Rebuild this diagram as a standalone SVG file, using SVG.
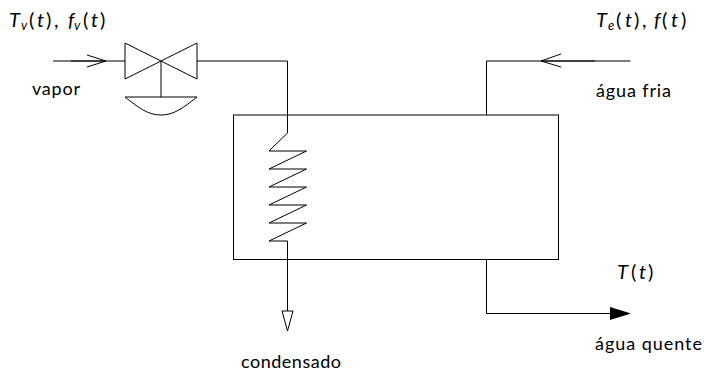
<svg xmlns="http://www.w3.org/2000/svg" width="704" height="372" viewBox="0 0 704 372">
<style>
.l{fill:none;stroke:#000;stroke-width:1;stroke-linejoin:miter}
.t{font-family:"Lato","Open Sans",sans-serif;font-size:18px;fill:#000}
.m{font-family:"Lato","Open Sans",sans-serif;font-size:20px;font-style:italic;fill:#000}
.u{font-style:normal}
.s{font-size:13px}
</style>
<rect width="704" height="372" fill="#fff"/>
<g id="connectors">
<path class="l" d="M53 61H125"/>
<path class="l" d="M71 61H106M87 55L106 61L87 67"/>
<path class="l" d="M197 61H287.5V133L269 151H306.5L269 169H306.5L269 187H306.5L269 205H306.5L269 223H306.5L269 241H287.5V311"/>
<path class="l" d="M282 311H293L287.5 331Z"/>
<path class="l" d="M630.5 61H486.5V115"/>
<path class="l" d="M595 61H541M561 54L541 61L561 67"/>
<path class="l" d="M486.5 259.5V313.5H612"/>
<path d="M610 307L631 313.5L610 320Z" fill="#000"/>
</g>
<g id="tank"><rect class="l" x="233.5" y="115" width="325" height="144.5"/></g>
<g id="valve">
<path class="l" d="M125 43V79L197 43V79L125 43Z"/>
<path class="l" d="M161 61V97"/>
<path class="l" d="M125 97H197C183 108 174 115 161 115C148 115 139 108 125 97Z"/>
</g>
<g id="labels">
<text class="m" y="27"><tspan x="9">T</tspan><tspan class="s" x="21" dy="3">v</tspan><tspan class="u" x="29" dy="-3">(</tspan><tspan x="37">t</tspan><tspan class="u" x="46">)</tspan><tspan class="u" x="54">,</tspan><tspan x="68">f</tspan><tspan class="s" x="74" dy="3">v</tspan><tspan class="u" x="83" dy="-3">(</tspan><tspan x="91">t</tspan><tspan class="u" x="100">)</tspan></text>
<text class="t" x="32" y="95" textLength="48">vapor</text>
<text class="m" y="27"><tspan x="596">T</tspan><tspan class="s" x="608" dy="3">e</tspan><tspan class="u" x="616" dy="-3">(</tspan><tspan x="625">t</tspan><tspan class="u" x="634">)</tspan><tspan class="u" x="642">,</tspan><tspan x="654">f</tspan><tspan class="u" x="662">(</tspan><tspan x="671">t</tspan><tspan class="u" x="681">)</tspan></text>
<text class="t" x="596" y="97" textLength="75">água fria</text>
<text class="m" y="279"><tspan x="617">T</tspan><tspan class="u" x="631">(</tspan><tspan x="639">t</tspan><tspan class="u" x="648">)</tspan></text>
<text class="t" x="595" y="350" textLength="107">água quente</text>
<text class="t" x="241" y="368" textLength="100">condensado</text>
</g>
</svg>
